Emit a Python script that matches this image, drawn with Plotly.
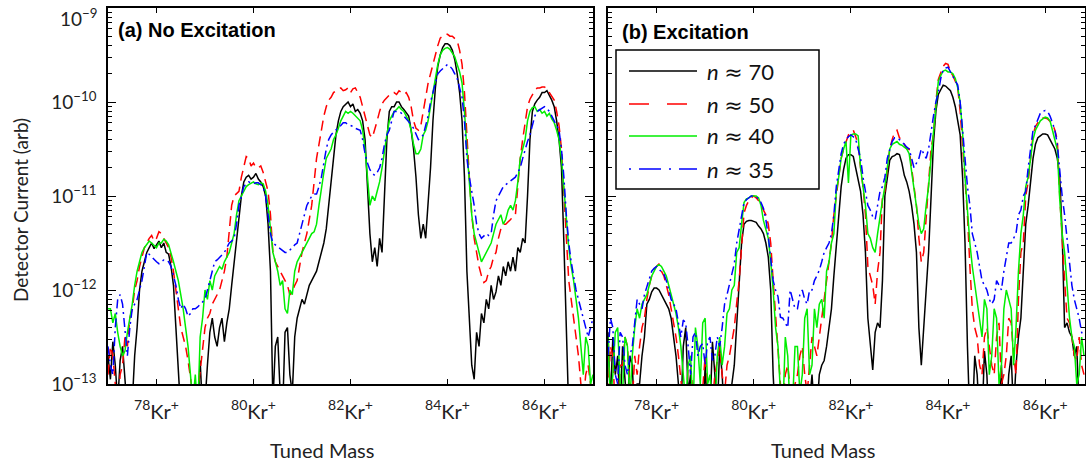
import numpy as np
import plotly.graph_objects as go

# ---------------- data: log10 of detector current (arb) ----------------
mass_a = np.round(np.arange(77.0, 87.0 + 1e-9, 0.05), 2)   # panel (a) tuned-mass scan
mass_b = np.round(np.arange(77.0, 86.8 + 1e-9, 0.05), 2)   # panel (b) tuned-mass scan

a_n70 = [
    -12.7, -12.95, -12.55, -12.8, -13.2, -12.75, -12.6, -12.9, -13.3, -13.4, -13.2, -12.7, -12.4, -12.0, -11.8, -11.7, -11.6, -11.55, -11.5, -11.56,
    -11.52, -11.48, -11.55, -11.5, -11.6, -11.62, -11.75, -11.95, -12.4, -13.0, -13.3, -13.5, -13.4, -13.5, -13.5, -13.4, -13.3, -13.3, -12.75, -13.3,
    -13.2, -12.8, -12.45, -12.3, -12.5, -12.6, -12.4, -12.3, -12.55, -12.35, -12.2, -11.95, -11.7, -11.45, -11.2, -11.0, -10.85, -10.8, -10.78, -10.82,
    -10.8, -10.76, -10.82, -10.85, -10.9, -11.0, -11.3, -11.8, -13.2, -12.6, -12.5, -13.1, -13.3, -12.45, -12.4, -12.9, -13.1, -12.5, -12.3, -12.2,
    -12.1, -12.15, -12.05, -11.95, -11.9, -11.85, -11.8, -11.7, -11.6, -11.5, -11.35, -11.1, -10.8, -10.55, -10.35, -10.2, -10.1, -10.05, -10.02, -10.0,
    -10.05, -10.02, -10.1, -10.08, -10.12, -10.2, -10.4, -10.9, -11.4, -11.7, -11.55, -11.75, -11.45, -11.6, -10.9, -10.4, -10.1, -10.05, -10.05, -10.0,
    -10.0, -10.05, -10.08, -10.12, -10.15, -10.3, -10.5, -10.8, -11.2, -11.45, -11.3, -11.45, -11.1, -10.7, -10.2, -9.85, -9.62, -9.5, -9.42, -9.38,
    -9.38, -9.4, -9.45, -9.55, -9.7, -9.9, -10.2, -10.8, -11.8, -12.3, -12.8, -12.95, -12.45, -12.6, -12.25, -12.35, -12.1, -12.2, -11.95, -12.1,
    -12.02, -11.85, -11.95, -11.75, -11.85, -11.7, -11.8, -11.65, -11.8, -11.55, -11.6, -11.45, -11.5, -11.0, -10.4, -10.1, -10.02, -9.98, -9.95, -9.9,
    -9.9, -9.88, -9.93, -9.98, -10.05, -10.2, -10.4, -10.7, -11.5, -12.6, -13.3, -13.5, -13.5, -13.5, -13.5, -13.5, -13.5, -13.5, -13.5, -13.5,
    -13.5]
a_n50 = [
    -12.9, -12.6, -12.7, -13.0, -13.3, -12.9, -12.8, -12.5, -12.6, -12.3, -12.2, -12.0, -11.9, -11.75, -11.65, -11.55, -11.5, -11.45, -11.42, -11.48,
    -11.45, -11.38, -11.4, -11.45, -11.5, -11.55, -11.65, -11.8, -12.0, -12.2, -12.4, -12.5, -12.6, -12.75, -12.95, -13.2, -13.3, -13.1, -12.85, -12.6,
    -12.4, -12.3, -12.25, -12.15, -12.1, -12.05, -12.0, -11.9, -11.8, -11.65, -11.4, -11.1, -11.0, -10.98, -10.95, -10.8, -10.7, -10.58, -10.6, -10.68,
    -10.65, -10.7, -10.7, -10.68, -10.75, -10.85, -10.95, -11.2, -11.6, -11.7, -11.75, -11.8, -11.85, -11.9, -11.95, -12.05, -12.02, -11.95, -11.9, -11.75,
    -11.6, -11.5, -11.4, -11.25, -11.1, -10.85, -10.6, -10.45, -10.3, -10.15, -10.05, -9.98, -9.95, -9.9, -9.88, -9.86, -9.85, -9.88, -9.87, -9.85,
    -9.9, -9.86, -9.85, -9.9, -9.95, -10.05, -10.15, -10.25, -10.35, -10.38, -10.3, -10.2, -10.1, -10.02, -9.98, -9.95, -9.92, -9.9, -9.9, -9.92,
    -9.88, -9.9, -9.92, -9.9, -9.95, -10.05, -10.2, -10.28, -10.3, -10.25, -10.1, -9.95, -9.8, -9.7, -9.6, -9.48, -9.4, -9.32, -9.3, -9.28,
    -9.28, -9.3, -9.3, -9.32, -9.35, -9.45, -9.6, -9.9, -10.4, -10.8, -11.2, -11.45, -11.6, -11.75, -11.85, -11.92, -11.9, -11.8, -11.75, -11.65,
    -11.6, -11.45, -11.35, -11.3, -11.3, -11.28, -11.25, -11.22, -11.2, -10.9, -10.6, -10.4, -10.2, -10.05, -9.97, -9.92, -9.88, -9.85, -9.85, -9.84,
    -9.84, -9.86, -9.9, -9.95, -9.98, -10.1, -10.25, -10.5, -10.95, -11.4, -11.9, -12.1, -12.3, -12.5, -12.7, -13.0, -13.2, -12.9, -12.8, -13.0,
    -13.1]
a_n40 = [
    -12.2, -12.2, -12.35, -12.25, -12.45, -12.6, -12.7, -12.65, -12.45, -12.3, -12.15, -11.95, -11.8, -11.7, -11.6, -11.55, -11.52, -11.48, -11.5, -11.53,
    -11.55, -11.5, -11.5, -11.46, -11.48, -11.52, -11.6, -11.7, -11.8, -11.9, -12.05, -12.2, -12.4, -12.6, -12.9, -13.2, -12.9, -13.3, -12.5, -12.3,
    -12.0, -12.1, -11.9, -12.0, -11.85, -11.8, -11.75, -11.78, -11.7, -11.65, -11.6, -11.5, -11.4, -11.2, -11.05, -11.0, -10.95, -10.9, -10.88, -10.86,
    -10.85, -10.87, -10.88, -10.86, -10.87, -10.95, -11.1, -11.35, -11.6, -11.7, -11.8, -11.95, -11.9, -12.2, -12.25, -12.0, -12.05, -11.8, -11.7, -11.65,
    -11.6, -11.55, -11.5, -11.45, -11.4, -11.38, -11.3, -11.1, -10.9, -10.75, -10.6, -10.55, -10.5, -10.4, -10.35, -10.28, -10.2, -10.15, -10.1, -10.12,
    -10.1, -10.12, -10.15, -10.18, -10.2, -10.3, -10.5, -10.8, -11.1, -11.0, -11.05, -10.95, -10.85, -10.7, -10.5, -10.35, -10.2, -10.15, -10.1, -10.08,
    -10.05, -10.08, -10.1, -10.15, -10.2, -10.3, -10.45, -10.55, -10.55, -10.5, -10.35, -10.3, -10.2, -10.05, -9.9, -9.75, -9.6, -9.5, -9.45, -9.43,
    -9.42, -9.44, -9.48, -9.52, -9.6, -9.68, -9.8, -10.1, -10.5, -10.9, -11.2, -11.4, -11.5, -11.6, -11.7, -11.65, -11.6, -11.55, -11.5, -11.4,
    -11.3, -11.25, -11.2, -11.3, -11.25, -11.15, -11.1, -11.15, -11.05, -10.85, -10.6, -10.5, -10.4, -10.2, -10.1, -10.06, -10.05, -10.1, -10.08, -10.12,
    -10.1, -10.15, -10.12, -10.18, -10.22, -10.3, -10.4, -10.6, -10.95, -11.3, -11.55, -11.75, -11.9, -12.1, -12.3, -12.6, -12.9, -12.5, -12.6, -13.0,
    -12.9]
a_n35 = [
    -12.6, -12.8, -12.9, -12.4, -12.1, -12.05, -12.15, -12.4, -12.7, -12.4, -12.2, -12.15, -12.1, -12.0, -11.9, -11.75, -11.6, -11.62, -11.65, -11.68,
    -11.7, -11.72, -11.7, -11.68, -11.68, -11.7, -11.75, -11.85, -11.95, -12.1, -12.2, -12.15, -12.2, -12.28, -12.25, -12.2, -12.2, -12.18, -12.15, -12.12,
    -12.1, -12.0, -11.9, -11.8, -11.7, -11.68, -11.65, -11.62, -11.6, -11.55, -11.5, -11.48, -11.45, -11.3, -11.1, -11.0, -10.9, -10.87, -10.85, -10.86,
    -10.87, -10.86, -10.86, -10.88, -10.9, -11.0, -11.2, -11.4, -11.5, -11.52, -11.55, -11.56, -11.58, -11.6, -11.6, -11.58, -11.55, -11.52, -11.5, -11.4,
    -11.3, -11.2, -11.1, -11.05, -11.0, -10.98, -10.98, -10.9, -10.8, -10.65, -10.5, -10.4, -10.35, -10.32, -10.3, -10.28, -10.25, -10.22, -10.22, -10.24,
    -10.25, -10.26, -10.28, -10.29, -10.3, -10.4, -10.55, -10.65, -10.72, -10.76, -10.78, -10.75, -10.7, -10.6, -10.45, -10.35, -10.3, -10.2, -10.1, -10.1,
    -10.1, -10.12, -10.15, -10.18, -10.2, -10.24, -10.28, -10.35, -10.4, -10.38, -10.35, -10.25, -10.15, -10.0, -9.9, -9.8, -9.7, -9.67, -9.65, -9.62,
    -9.6, -9.62, -9.65, -9.7, -9.75, -9.85, -9.95, -10.2, -10.6, -10.8, -10.95, -11.1, -11.3, -11.4, -11.45, -11.42, -11.4, -11.42, -11.4, -11.2,
    -11.05, -11.0, -10.95, -10.9, -10.88, -10.86, -10.85, -10.82, -10.8, -10.75, -10.7, -10.6, -10.5, -10.42, -10.35, -10.25, -10.15, -10.1, -10.08, -10.06,
    -10.05, -10.07, -10.1, -10.15, -10.2, -10.25, -10.3, -10.5, -10.8, -11.2, -11.5, -11.7, -11.85, -12.0, -12.1, -12.2, -12.3, -12.4, -12.5, -12.4,
    -12.3]

b_n70 = [
    -12.45, -13.2, -12.5, -12.9, -12.7, -13.3, -12.6, -13.0, -13.3, -12.7, -12.8, -13.4, -13.0, -13.0, -12.7, -12.5, -12.15, -12.1, -12.02, -11.98,
    -11.98, -12.0, -12.05, -12.1, -12.15, -12.2, -12.3, -12.5, -12.7, -13.0, -13.3, -12.6, -12.4, -13.1, -12.9, -13.4, -13.4, -13.1, -13.3, -13.5,
    -12.8, -13.3, -13.3, -12.55, -12.9, -13.3, -12.6, -12.9, -13.4, -13.4, -13.3, -13.0, -12.8, -12.4, -12.0, -11.5, -11.3, -11.27, -11.26, -11.26,
    -11.27, -11.28, -11.32, -11.35, -11.4, -11.5, -11.65, -12.0, -12.9, -13.4, -13.4, -13.5, -13.5, -13.3, -13.4, -13.5, -13.5, -13.3, -13.3, -13.5,
    -13.5, -13.4, -13.4, -13.2, -12.9, -13.3, -13.3, -12.9, -12.8, -12.75, -12.6, -12.4, -12.2, -11.85, -11.5, -11.2, -10.9, -10.72, -10.6, -10.56,
    -10.56, -10.58, -10.7, -10.8, -10.95, -11.2, -11.6, -12.3, -12.6, -12.85, -12.45, -12.35, -12.4, -11.9, -11.0, -10.8, -10.62, -10.58, -10.57, -10.55,
    -10.56, -10.65, -10.78, -10.85, -10.95, -11.1, -11.3, -11.6, -12.4, -12.8, -12.35, -12.0, -11.6, -11.0, -10.44, -10.1, -9.92, -9.87, -9.82, -9.83,
    -9.85, -9.88, -9.95, -10.05, -10.2, -10.35, -10.8, -11.5, -12.6, -13.4, -13.4, -12.7, -12.9, -13.4, -13.4, -12.65, -12.9, -13.5, -13.5, -13.3,
    -13.3, -13.4, -12.8, -13.4, -13.4, -12.9, -12.7, -13.3, -12.8, -12.5, -12.3, -11.8, -11.3, -11.1, -10.86, -10.6, -10.45, -10.38, -10.36, -10.34,
    -10.34, -10.35, -10.4, -10.45, -10.5, -10.6, -10.8, -11.4, -12.4, -12.35, -12.45, -12.5, -12.7, -12.6, -13.3, -13.4, -13.4]
b_n50 = [
    -13.1, -12.6, -12.7, -13.3, -13.3, -12.8, -12.8, -12.5, -12.6, -13.0, -13.2, -12.7, -12.9, -12.6, -12.4, -12.3, -12.1, -11.95, -11.85, -11.78,
    -11.75, -11.72, -11.8, -11.85, -11.95, -12.05, -12.2, -12.35, -12.5, -12.7, -12.95, -13.2, -13.3, -12.8, -12.8, -13.1, -13.2, -13.4, -13.4, -13.0,
    -12.7, -13.0, -13.3, -13.2, -12.9, -12.75, -12.6, -12.9, -13.1, -12.8, -12.7, -12.55, -12.4, -12.14, -11.9, -11.54, -11.18, -11.1, -11.05, -11.02,
    -11.0, -11.02, -11.05, -11.1, -11.15, -11.2, -11.3, -11.5, -11.9, -12.3, -12.7, -13.0, -13.2, -12.9, -12.8, -13.1, -13.3, -13.0, -12.9, -12.7,
    -12.6, -12.9, -13.1, -12.8, -12.5, -12.6, -12.7, -12.5, -12.3, -12.1, -11.9, -11.7, -11.5, -11.2, -11.0, -10.8, -10.6, -10.5, -10.42, -10.35,
    -10.32, -10.3, -10.37, -10.45, -10.7, -10.9, -11.2, -11.75, -11.85, -11.95, -12.15, -11.8, -11.6, -11.0, -10.95, -10.7, -10.5, -10.4, -10.32, -10.3,
    -10.38, -10.4, -10.45, -10.5, -10.5, -10.7, -10.85, -11.1, -11.45, -11.7, -11.6, -11.2, -10.9, -10.5, -10.35, -10.0, -9.76, -9.7, -9.62, -9.59,
    -9.6, -9.68, -9.72, -9.78, -9.85, -10.1, -10.45, -10.8, -11.2, -11.75, -12.2, -12.4, -12.5, -12.8, -12.9, -12.5, -12.4, -12.6, -12.8, -12.9,
    -12.5, -12.35, -13.0, -12.9, -12.7, -12.3, -12.35, -12.7, -12.9, -12.1, -11.6, -11.5, -11.0, -10.85, -10.6, -10.35, -10.26, -10.22, -10.18, -10.17,
    -10.17, -10.18, -10.2, -10.23, -10.3, -10.4, -11.0, -11.5, -11.9, -12.3, -12.35, -12.5, -12.7, -12.75, -12.5, -12.8, -12.9]
b_n40 = [
    -12.5, -13.2, -12.9, -12.45, -12.4, -13.0, -13.1, -12.5, -12.6, -13.2, -12.7, -12.4, -12.2, -12.3, -12.15, -12.1, -12.05, -11.95, -11.85, -11.8,
    -11.75, -11.73, -11.75, -11.8, -11.85, -11.95, -12.05, -12.15, -12.25, -12.4, -12.6, -12.9, -13.2, -12.8, -12.7, -13.3, -12.4, -12.6, -13.0, -12.35,
    -12.3, -13.0, -12.9, -13.3, -13.3, -12.7, -12.5, -12.8, -12.6, -12.25, -12.2, -12.0, -11.95, -11.6, -11.55, -11.3, -11.07, -11.03, -11.02, -11.0,
    -11.0, -11.0, -11.02, -11.1, -11.26, -11.35, -11.45, -11.7, -12.0, -12.4, -12.6, -13.1, -13.3, -12.5, -12.7, -13.3, -13.2, -12.6, -12.6, -13.1,
    -12.9, -12.3, -12.2, -12.9, -12.8, -12.2, -12.4, -12.15, -12.1, -12.3, -11.8, -11.7, -11.5, -11.4, -10.95, -10.8, -10.6, -10.5, -10.42, -10.86,
    -10.35, -10.34, -10.34, -10.36, -10.7, -10.9, -11.1, -11.4, -11.45, -11.55, -11.6, -11.4, -11.2, -11.05, -10.9, -10.7, -10.5, -10.45, -10.43, -10.42,
    -10.45, -10.46, -10.48, -10.5, -10.55, -10.75, -10.9, -11.1, -11.3, -11.4, -11.35, -11.1, -10.9, -10.6, -10.3, -10.0, -9.78, -9.72, -9.67, -9.66,
    -9.68, -9.68, -9.7, -9.75, -9.85, -10.0, -10.33, -10.8, -11.2, -11.5, -11.75, -11.95, -12.1, -12.3, -12.5, -12.1, -12.2, -12.9, -12.7, -12.2,
    -12.3, -13.0, -12.8, -12.2, -12.0, -12.1, -12.2, -12.8, -12.4, -11.8, -11.4, -11.2, -10.9, -10.8, -10.6, -10.4, -10.3, -10.25, -10.2, -10.18,
    -10.16, -10.17, -10.2, -10.3, -10.4, -10.51, -11.04, -11.4, -11.6, -11.93, -12.29, -12.5, -12.6, -13.0, -12.9, -12.5, -12.7]
b_n35 = [
    -12.7, -12.3, -12.4, -12.9, -13.0, -12.45, -12.5, -12.8, -12.9, -12.7, -12.6, -12.35, -12.1, -12.15, -12.2, -12.05, -11.97, -11.88, -11.8, -11.77,
    -11.75, -11.78, -11.8, -11.83, -11.9, -12.0, -12.1, -12.15, -12.2, -12.35, -12.5, -12.32, -12.35, -12.6, -12.9, -12.5, -12.45, -12.7, -12.6, -12.57,
    -12.8, -12.55, -12.5, -12.75, -12.7, -12.5, -12.6, -12.4, -12.15, -12.05, -11.95, -11.85, -11.72, -11.5, -11.35, -11.2, -11.07, -11.04, -11.02, -11.0,
    -11.0, -11.01, -11.03, -11.07, -11.13, -11.25, -11.43, -11.7, -11.9, -12.0, -12.07, -12.29, -12.3, -12.35, -12.4, -12.0, -12.1, -12.2, -12.2, -12.05,
    -12.0, -12.1, -12.15, -12.0, -12.0, -11.9, -11.85, -11.79, -11.7, -11.6, -11.55, -11.5, -11.4, -11.2, -10.9, -10.7, -10.55, -10.45, -10.4, -10.37,
    -10.35, -10.37, -10.4, -10.5, -10.6, -10.8, -10.95, -11.1, -11.15, -11.22, -11.25, -11.1, -10.95, -10.9, -10.8, -10.6, -10.5, -10.42, -10.38, -10.38,
    -10.4, -10.42, -10.45, -10.48, -10.5, -10.6, -10.7, -10.65, -10.6, -10.5, -10.55, -10.6, -10.5, -10.3, -10.15, -10.0, -9.9, -9.75, -9.66, -9.64,
    -9.63, -9.68, -9.73, -9.78, -9.82, -10.0, -10.33, -10.6, -10.9, -11.1, -11.4, -11.5, -11.6, -11.75, -11.9, -11.95, -12.0, -12.1, -12.15, -12.1,
    -11.9, -11.95, -12.0, -11.8, -11.65, -11.5, -11.5, -11.45, -11.4, -11.2, -11.15, -11.0, -10.95, -10.7, -10.5, -10.3, -10.25, -10.18, -10.12, -10.1,
    -10.09, -10.1, -10.15, -10.22, -10.3, -10.45, -10.75, -11.0, -11.2, -11.45, -11.75, -11.95, -12.1, -12.2, -12.3, -12.45, -12.5]

n_values = [70, 50, 40, 35]
isotopes = [78, 80, 82, 84, 86]
tick_labels_x = [f"<sup>{m}</sup>Kr<sup>+</sup>" for m in isotopes]
y_decades = [-13, -12, -11, -10, -9]

for nm, arr, ref in [("a_n70", a_n70, mass_a), ("a_n50", a_n50, mass_a), ("a_n40", a_n40, mass_a),
                     ("a_n35", a_n35, mass_a), ("b_n70", b_n70, mass_b), ("b_n50", b_n50, mass_b),
                     ("b_n40", b_n40, mass_b), ("b_n35", b_n35, mass_b)]:
    assert len(arr) == len(ref), f"{nm}: {len(arr)} vs {len(ref)}"

# ---------------- styles ----------------
colors = ["#000000", "#ff0000", "#00ee00", "#0000ff"]
data_dash = ["solid", "10px,6px", "solid", "9px,4px,2px,4px"]
legend_dash = ["solid", "20px,18px", "solid", "2px,8px,22px,8px"]
FONT = "Lato, 'DejaVu Sans', sans-serif"
BOLD = "'Liberation Sans', Arial, sans-serif"
APPROX = "<span style=\"font-family:'DejaVu Sans'\">\u2248</span>"
series_names = [f"<i>n</i> {APPROX} {n}" for n in n_values]
trace_names = [f"n \u2248 {n}" for n in n_values]

fig = go.Figure()
for i, ys in enumerate([a_n70, a_n50, a_n40, a_n35]):
    fig.add_trace(go.Scatter(x=mass_a, y=10.0 ** np.array(ys), mode="lines",
                             line=dict(color=colors[i], width=1.5, dash=data_dash[i]),
                             name=trace_names[i], legendgroup=str(i), showlegend=False,
                             xaxis="x", yaxis="y"))
for i, ys in enumerate([b_n70, b_n50, b_n40, b_n35]):
    fig.add_trace(go.Scatter(x=mass_b, y=10.0 ** np.array(ys), mode="lines",
                             line=dict(color=colors[i], width=1.5, dash=data_dash[i]),
                             name=trace_names[i], legendgroup=str(i), showlegend=False,
                             xaxis="x2", yaxis="y2"))

W, H = 1086, 463
def fx(px):
    return px / W
def fy(py):
    return 1 - py / H

minor_vals = [k * 10.0 ** e for e in range(-13, -9) for k in range(2, 10)]
# the top decade's label is drawn separately (kept inside the figure like the reference)
ytick_text = [f"10<sup>\u2212{abs(e)}</sup>" if e != -9 else "" for e in y_decades]

common_x = dict(showline=True, linecolor="black", linewidth=1.5, mirror="allticks",
                ticks="inside", ticklen=5, tickwidth=1.2, tickcolor="black",
                tickvals=isotopes, ticktext=tick_labels_x, showgrid=False, zeroline=False,
                automargin=False, ticklabelstandoff=9,
                tickfont=dict(family=FONT, size=20, color="#222"))
common_y = dict(type="log", range=[-13, -9], showline=True, linecolor="black", linewidth=1.5,
                mirror="allticks", ticks="inside", ticklen=8, tickwidth=1.2, tickcolor="black",
                tickvals=[10.0 ** e for e in y_decades], ticktext=ytick_text,
                showgrid=False, zeroline=False, automargin=False, ticklabelstandoff=6,
                minor=dict(tickvals=minor_vals, ticks="inside", ticklen=4, tickwidth=1, tickcolor="black"),
                tickfont=dict(family=FONT, size=19, color="#222"))

# legend drawn as a framed key (box, sample lines, labels)
leg_rows = [71, 104, 136, 169]
shapes = [dict(type="rect", xref="paper", yref="paper", x0=fx(616), x1=fx(819), y0=fy(189), y1=fy(50),
               line=dict(color="black", width=1.5), fillcolor="white", layer="above")]
annotations = []
for i, ry in enumerate(leg_rows):
    shapes.append(dict(type="line", xref="paper", yref="paper", x0=fx(629), x1=fx(697), y0=fy(ry), y1=fy(ry),
                       line=dict(color=colors[i], width=1.5, dash=legend_dash[i]), layer="above"))
    annotations.append(dict(text=series_names[i], x=fx(705), y=fy(ry), xref="paper", yref="paper",
                            xanchor="left", yanchor="middle", showarrow=False,
                            font=dict(family=FONT, size=22, color="#111")))

annotations += [
    dict(text="10<sup>\u22129</sup>", x=fx(99), y=fy(3), xref="paper", yref="paper",
         xanchor="right", yanchor="top", showarrow=False,
         font=dict(family=FONT, size=19, color="#222")),
    dict(text="<b>(a) No Excitation</b>", x=fx(116), y=fy(30), xref="paper", yref="paper",
         xanchor="left", yanchor="middle", showarrow=False,
         font=dict(family=BOLD, size=20, color="black")),
    dict(text="<b>(b) Excitation</b>", x=fx(620), y=fy(32), xref="paper", yref="paper",
         xanchor="left", yanchor="middle", showarrow=False,
         font=dict(family=BOLD, size=20, color="black")),
    dict(text="Tuned Mass", x=fx(322), y=fy(450), xref="paper", yref="paper",
         xanchor="center", yanchor="middle", showarrow=False,
         font=dict(family=FONT, size=20, color="#222")),
    dict(text="Tuned Mass", x=fx(823), y=fy(450), xref="paper", yref="paper",
         xanchor="center", yanchor="middle", showarrow=False,
         font=dict(family=FONT, size=20, color="#222")),
    dict(text="Detector Current (arb)", x=fx(20), y=fy(210), xref="paper", yref="paper",
         xanchor="center", yanchor="middle", showarrow=False, textangle=-90,
         font=dict(family=FONT, size=19, color="#222")),
]

fig.update_layout(
    width=W, height=H, margin=dict(l=0, r=0, t=0, b=0, autoexpand=False),
    paper_bgcolor="white", plot_bgcolor="white", showlegend=False,
    xaxis=dict(domain=[fx(108), fx(593)], range=[77, 87], anchor="y", **common_x),
    yaxis=dict(domain=[fy(384), fy(8)], anchor="x", showticklabels=True, **common_y),
    xaxis2=dict(domain=[fx(608), fx(1085)], range=[77, 86.82], anchor="y2", **common_x),
    yaxis2=dict(domain=[fy(384), fy(8)], anchor="x2", showticklabels=False, **common_y),
    shapes=shapes, annotations=annotations,
)

# remove the browser's default 8px page margin so the figure sits at the window origin
fig.write_html("out.html", config={"displayModeBar": False},
               post_script="document.body.style.margin='0';document.body.style.overflow='hidden';")
